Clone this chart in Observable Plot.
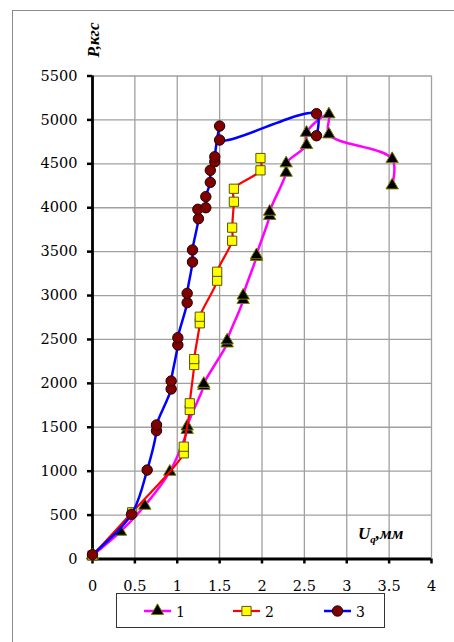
<!DOCTYPE html>
<html><head><meta charset="utf-8">
<script src="https://cdn.jsdelivr.net/npm/d3@7"></script>
<script src="https://cdn.jsdelivr.net/npm/@observablehq/plot@0.6"></script>
<style>
body{margin:0;overflow:hidden;background:#fff}
#wrap{position:relative;width:454px;height:642px;overflow:hidden;font-family:"DejaVu Serif",serif}
#frame{position:absolute;left:12px;top:10px;width:520px;height:720px;border:1px solid #8a8a8a}
#chart{position:absolute;left:0;top:0}
#ytitle{position:absolute;left:94px;top:40px;transform:translate(-50%,-50%) rotate(-90deg);font:bold italic 17px "Liberation Serif",serif;white-space:nowrap}
#xtitle{position:absolute;left:358px;top:524px;font:bold italic 17px "Liberation Serif",serif;white-space:nowrap}
#xtitle sub{font-size:11px}
#legend{position:absolute;left:116px;top:593px;width:267px;height:33px;border:1px solid #333;background:#fff}
</style></head>
<body><div id="wrap"><div id="frame"></div><div id="chart"></div>
<div id="ytitle">P,кгс</div>
<div id="xtitle">U<sub>q</sub>,мм</div>
<div id="legend"></div></div>
<script>
const xTicks = [0, 0.5, 1, 1.5, 2, 2.5, 3, 3.5, 4];
const yTicks = [0, 500, 1000, 1500, 2000, 2500, 3000, 3500, 4000, 4500, 5000, 5500];
const seriesNames = ["1", "2", "3"];
const u1 = [0, 0.33, 0.617, 0.912, 1.117, 1.117, 1.313, 1.313, 1.589, 1.589, 1.778, 1.778, 1.935, 1.935, 2.09, 2.09, 2.285, 2.285, 2.525, 2.525, 2.789, 2.789, 3.536, 3.536];
const p1 = [40, 311, 607, 994, 1470, 1510, 1970, 1995, 2455, 2490, 2950, 3000, 3440, 3460, 3906, 3955, 4399, 4506, 4714, 4854, 5064, 4836, 4555, 4255];
const u2 = [0, 0.468, 1.077, 1.077, 1.148, 1.148, 1.2, 1.2, 1.266, 1.266, 1.471, 1.471, 1.648, 1.648, 1.668, 1.668, 1.982, 1.982];
const p2 = [40, 532, 1203, 1279, 1697, 1773, 2209, 2277, 2684, 2759, 3169, 3271, 3624, 3773, 4068, 4216, 4426, 4566];
const u3 = [0, 0.46, 0.645, 0.755, 0.755, 0.928, 0.928, 1.007, 1.007, 1.117, 1.117, 1.18, 1.18, 1.25, 1.243, 1.337, 1.337, 1.39, 1.39, 1.443, 1.443, 1.5, 1.5, 2.643, 2.643];
const p3 = [50, 509, 1013, 1461, 1526, 1936, 2027, 2437, 2520, 2919, 3025, 3382, 3519, 3875, 3982, 4000, 4126, 4289, 4426, 4524, 4581, 4930, 4771, 5071, 4820];

const toRows = (u, p) => u.map((x, i) => ({u: x, p: p[i]}));
const s1 = toRows(u1, p1), s2 = toRows(u2, p2), s3 = toRows(u3, p3);

const styles = [
  {line: "#ff00ff", symbol: "triangle", fill: "#000", stroke: "#7a7a00", r: 4.6, lw: 2.5},
  {line: "#ff0000", symbol: "square", fill: "#ffff00", stroke: "#555500", r: 5.2, lw: 2.2},
  {line: "#0000ff", symbol: "circle", fill: "#800000", stroke: "#200000", r: 5.2, lw: 2.5}
];
const data = [s1, s2, s3];
const seriesMarks = data.flatMap((d, i) => [
  Plot.line(d, {x: "u", y: "p", stroke: styles[i].line, strokeWidth: styles[i].lw, curve: "catmull-rom"}),
  Plot.dot(d, {x: "u", y: "p", symbol: styles[i].symbol, r: styles[i].r, fill: styles[i].fill, stroke: styles[i].stroke, strokeWidth: 1})
]);

const chart = Plot.plot({
  width: 454, height: 600,
  marginLeft: 92, marginRight: 23, marginTop: 75.5, marginBottom: 41.5,
  x: {domain: [0, 4]},
  y: {domain: [0, 5500]},
  style: {fontFamily: "DejaVu Serif, serif", fontSize: "14.5px", background: "transparent", color: "black"},
  marks: [
    Plot.ruleX(xTicks, {stroke: "#a0a0a0", strokeWidth: 1.3}),
    Plot.ruleY(yTicks, {stroke: "#a0a0a0", strokeWidth: 1.3}),
    Plot.axisY({ticks: yTicks, tickSize: 5, tickPadding: 10, tickFormat: d => String(d), label: null, strokeWidth: 2.5}),
    Plot.axisX({ticks: xTicks, tickSize: 5, tickPadding: 17, tickFormat: d => String(d), label: null, strokeWidth: 2.5}),
    Plot.ruleX([0], {strokeWidth: 2.8}),
    Plot.ruleY([0], {strokeWidth: 2.8}),
    ...seriesMarks
  ]
});
document.getElementById("chart").appendChild(chart);

// legend
const lg = d3.select("#legend").append("svg").attr("width", 267).attr("height", 33);
const lx = [27, 116, 207];
seriesNames.forEach((name, i) => {
  const g = lg.append("g").attr("transform", `translate(${lx[i]},17)`);
  g.append("line").attr("x1", 0).attr("x2", 27).attr("stroke", styles[i].line).attr("stroke-width", styles[i].lw);
  const sym = {triangle: d3.symbolTriangle, square: d3.symbolSquare, circle: d3.symbolCircle}[styles[i].symbol];
  g.append("path").attr("transform", "translate(13.5,0)").attr("d", d3.symbol(sym, Math.PI * styles[i].r * styles[i].r)())
    .attr("fill", styles[i].fill).attr("stroke", styles[i].stroke);
  g.append("text").attr("x", 32).attr("y", 5.5).attr("font-family", "DejaVu Serif, serif").attr("font-size", 14).text(name);
});
</script></body></html>
